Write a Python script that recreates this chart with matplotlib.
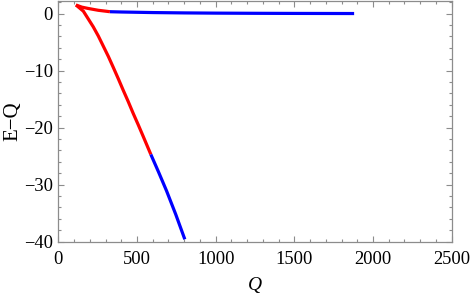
import matplotlib
matplotlib.use("Agg")
import matplotlib.pyplot as plt
from matplotlib.ticker import MultipleLocator

# Upper branch (red part then blue part)
upper_red_Q = [112, 150, 190, 254, 328]
upper_red_E = [1.53, 1.15, 0.92, 0.6, 0.35]
upper_blue_Q = [328, 400, 600, 800, 1000, 1250, 1500, 1700, 1880]
upper_blue_E = [0.35, 0.3, 0.2, 0.14, 0.1, 0.07, 0.05, 0.04, 0.03]

# Lower branch (red part then blue part)
lower_red_Q = [112, 135, 159, 190, 222, 254, 286, 318, 349, 381, 412, 444, 476, 508, 539, 588]
lower_red_E = [1.53, 1.0, 0.45, -0.9, -2.3, -3.9, -5.7, -7.5, -9.4, -11.4, -13.4, -15.4, -17.5, -19.5, -21.5, -24.7]
lower_blue_Q = [588, 638, 688, 746, 804]
lower_blue_E = [-24.7, -27.85, -31.1, -35.2, -39.6]

xticks = [0, 500, 1000, 1500, 2000, 2500]
yticks = [0, -10, -20, -30, -40]

plt.rcParams['font.family'] = ['Liberation Serif', 'DejaVu Serif']
plt.rcParams['axes.unicode_minus'] = True

fig = plt.figure(figsize=(4.71, 2.95), dpi=100)
ax = fig.add_axes([0.1238, 0.181, 0.8352, 0.816])

lw = 2.3
for q, e, c in [(upper_red_Q, upper_red_E, '#ff0000'),
                (upper_blue_Q, upper_blue_E, '#0000ff'),
                (lower_red_Q, lower_red_E, '#ff0000'),
                (lower_blue_Q, lower_blue_E, '#0000ff')]:
    ax.plot(q, e, color=c, lw=lw, solid_capstyle='butt', solid_joinstyle='round', zorder=3)

ax.set_xlim(0, 2500)
ax.set_ylim(-40, 2.25)
ax.set_xticks(xticks)
ax.set_yticks(yticks)
ax.xaxis.set_minor_locator(MultipleLocator(100))
ax.yaxis.set_minor_locator(MultipleLocator(2))

frame_color = '#8c8c8c'
for s in ax.spines.values():
    s.set_color(frame_color)
    s.set_linewidth(0.9)
ax.tick_params(which='both', direction='in', top=True, right=True, color=frame_color, width=0.8)
ax.tick_params(which='major', length=4.5, labelsize=13.3)
ax.tick_params(axis='x', which='major', pad=6.5)
ax.tick_params(axis='y', which='major', pad=4)
ax.tick_params(which='minor', length=2.5)

ax.set_xlabel('Q', fontsize=14, style='italic', labelpad=7)
ax.set_ylabel('E\u2212Q', fontsize=15, labelpad=1)

fig.savefig('out.png', dpi=100)
